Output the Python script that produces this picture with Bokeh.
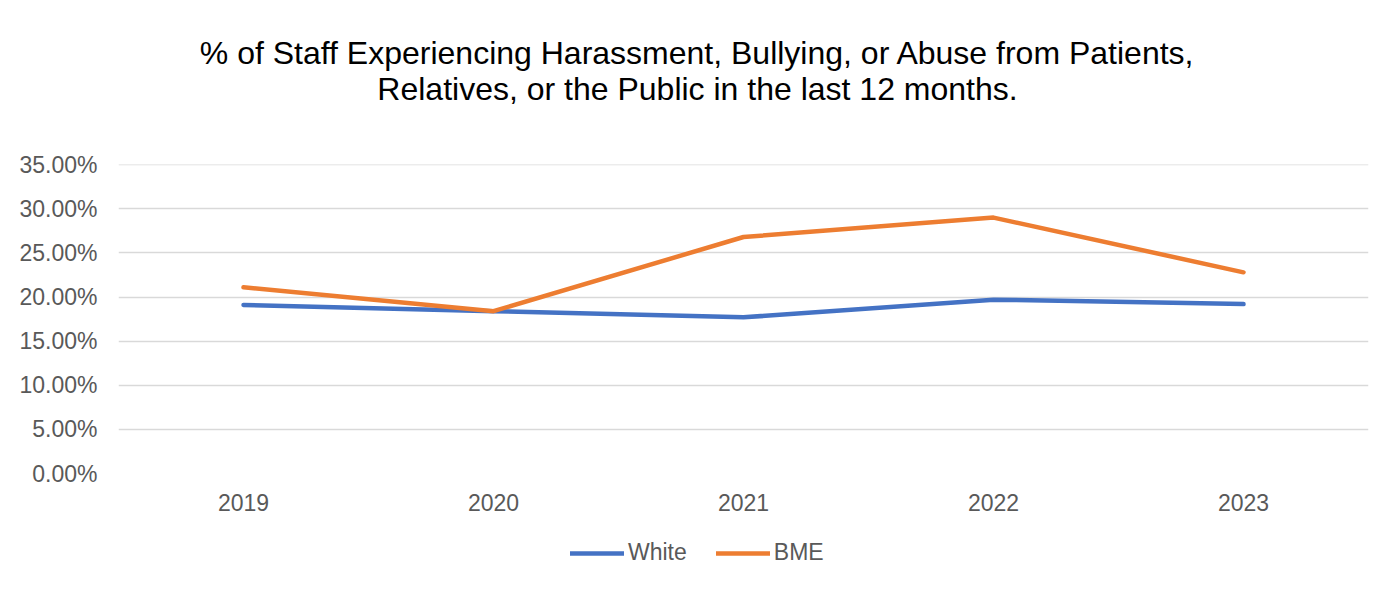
from bokeh.plotting import figure
from bokeh.models import (FactorRange, Range1d, NumeralTickFormatter, Legend, LegendItem,
                          Label, ColumnDataSource, SingleIntervalTicker)
from bokeh.layouts import column
from bokeh.embed import file_html
from bokeh.resources import INLINE

years = ["2019", "2020", "2021", "2022", "2023"]
white = [0.191, 0.184, 0.177, 0.197, 0.192]
bme = [0.211, 0.184, 0.268, 0.290, 0.228]
title_lines = ["% of Staff Experiencing Harassment, Bullying, or Abuse from Patients,",
               "Relatives, or the Public in the last 12 months."]

FONT = "Liberation Sans"
GREY = "#595959"
BLUE = "#4472C4"
ORANGE = "#ED7D31"

src = ColumnDataSource(dict(x=years, white=white, bme=bme))


def strip(h, yr):
    f = figure(frame_width=1250, frame_height=h, output_backend="svg", toolbar_location=None,
               x_range=FactorRange(*years, range_padding=0), y_range=yr,
               x_axis_type=None, y_axis_type=None,
               min_border_left=118, min_border_right=27, min_border_top=0, min_border_bottom=0)
    f.title = None
    f.outline_line_color = None
    f.grid.grid_line_color = None
    return f


# title strip
head = strip(144, Range1d(5, 6))
for i, t in enumerate(title_lines):
    head.add_layout(Label(x=579, y=92 - 36 * i, x_units="screen", y_units="screen", text=t,
                          text_font=FONT, text_font_size="32px", text_color="black",
                          text_align="center", text_baseline="alphabetic"))

# main chart
p = figure(frame_width=1250, frame_height=309, output_backend="svg", toolbar_location=None,
           x_range=FactorRange(*years, range_padding=0), y_range=Range1d(0, 0.3502),
           min_border_left=118, min_border_right=27, min_border_top=20, min_border_bottom=55)
p.title = None
p.outline_line_color = None
p.background_fill_color = "white"
p.border_fill_color = "white"

p.line("x", "white", source=src, line_color=BLUE, line_width=4.5, line_cap="round", line_join="round")
p.line("x", "bme", source=src, line_color=ORANGE, line_width=4.5, line_cap="round", line_join="round")

p.yaxis.ticker = SingleIntervalTicker(interval=0.05)
p.yaxis.formatter = NumeralTickFormatter(format="0.00%")
for ax in (p.xaxis[0], p.yaxis[0]):
    ax.axis_line_color = None
    ax.major_tick_line_color = None
    ax.minor_tick_line_color = None
    ax.major_label_text_font = FONT
    ax.major_label_text_font_size = "23px"
    ax.major_label_text_color = GREY
p.yaxis.major_label_standoff = 15
p.xaxis.major_label_standoff = 14
p.xgrid.grid_line_color = None
p.ygrid.grid_line_color = "#D9D9D9"
p.ygrid.grid_line_width = 1.5

# legend strip below the chart
leg = strip(64, Range1d(5, 6))
lr1 = leg.line("x", "white", source=src, line_color=BLUE, line_width=4.5, line_cap="round")
lr2 = leg.line("x", "bme", source=src, line_color=ORANGE, line_width=4.5, line_cap="round")
legend = Legend(items=[LegendItem(label="White", renderers=[lr1]), LegendItem(label="BME", renderers=[lr2])],
                orientation="horizontal", location=(452, 26),
                label_text_font=FONT, label_text_font_size="23px", label_text_color=GREY,
                glyph_width=54, label_standoff=4, spacing=29, padding=0, margin=0,
                border_line_color=None, background_fill_alpha=0)
leg.add_layout(legend)

open("out.html", "w").write(file_html(column(head, p, leg, spacing=0), INLINE))
